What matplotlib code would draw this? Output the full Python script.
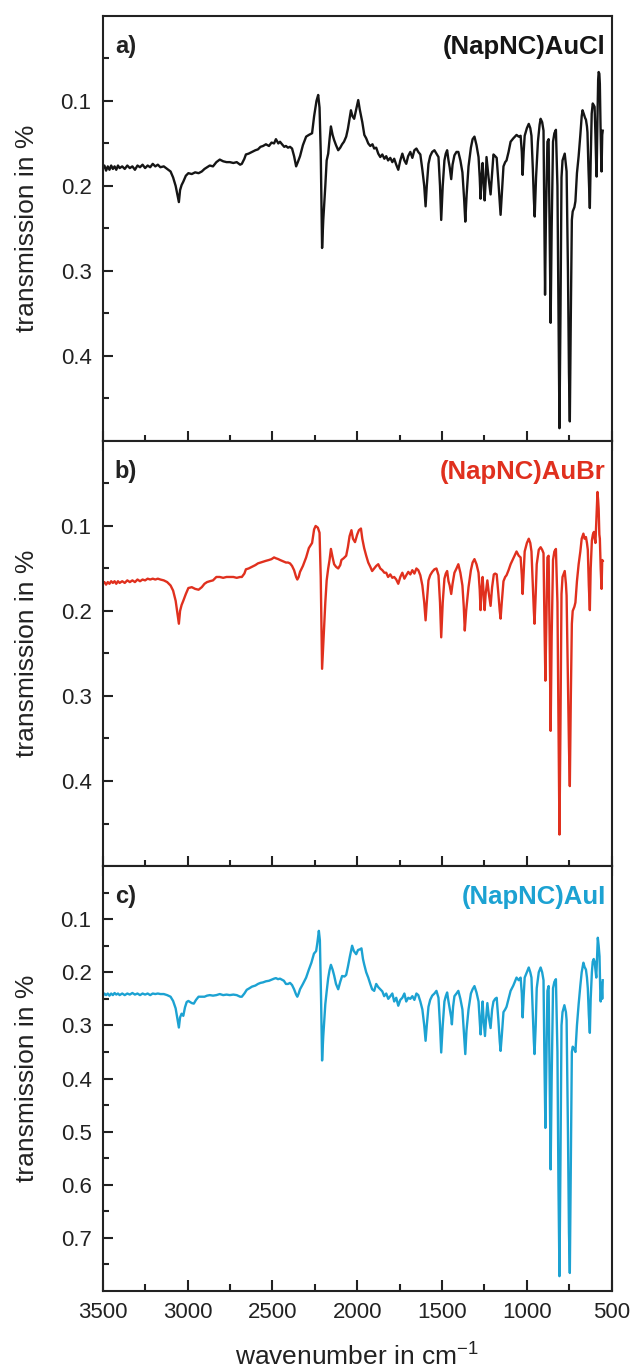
import matplotlib
matplotlib.use("Agg")
import matplotlib.pyplot as plt
import numpy as np

plt.rcParams['font.family'] = ['Liberation Sans', 'DejaVu Sans']
plt.rcParams['mathtext.fontset'] = 'custom'
plt.rcParams['mathtext.rm'] = 'Liberation Sans'

# ---- data (wavenumber in cm-1, transmission) ----
wn_a = [3500, 3490, 3480, 3470, 3460, 3450, 3440, 3430, 3420, 3410, 3400, 3385, 3370, 3355, 3340, 3325,
        3310, 3295, 3280, 3265, 3250, 3235, 3220, 3205, 3190, 3175, 3160, 3140, 3120, 3100, 3085, 3070,
        3058, 3051, 3044, 3035, 3025, 3010, 2995, 2975, 2955, 2935, 2916, 2900, 2885, 2869, 2850, 2830,
        2810, 2790, 2770, 2751, 2730, 2710, 2690, 2680, 2665, 2656, 2640, 2620, 2600, 2585, 2570, 2555,
        2538, 2520, 2505, 2490, 2479, 2465, 2455, 2443, 2430, 2420, 2408, 2396, 2384, 2372, 2360, 2350,
        2337, 2320, 2301, 2285, 2266, 2254, 2240, 2230, 2222, 2215, 2207, 2200, 2188, 2180, 2171, 2163,
        2155, 2145, 2136, 2125, 2112, 2100, 2089, 2078, 2065, 2055, 2045, 2037, 2028, 2018, 2006, 1994,
        1985, 1977, 1970, 1958, 1947, 1935, 1923, 1910, 1900, 1888, 1876, 1864, 1852, 1840, 1829, 1818,
        1805, 1793, 1782, 1770, 1758, 1746, 1734, 1722, 1711, 1700, 1687, 1675, 1663, 1651, 1640, 1628,
        1616, 1605, 1597, 1590, 1580, 1570, 1558, 1545, 1533, 1521, 1512, 1505, 1496, 1486, 1478, 1470,
        1462, 1455, 1446, 1438, 1427, 1415, 1404, 1392, 1380, 1370, 1363, 1355, 1344, 1330, 1320, 1309,
        1297, 1285, 1278, 1273, 1267, 1261, 1255, 1249, 1243, 1238, 1226, 1214, 1205, 1197, 1187, 1178,
        1168, 1160, 1155, 1148, 1138, 1128, 1120, 1108, 1096, 1080, 1061, 1048, 1037, 1030, 1025, 1019,
        1013, 1000, 989, 980, 973, 965, 959, 954, 946, 935, 925, 919, 910, 902, 897, 893,
        888, 879, 872, 866, 860, 854, 846, 838, 829, 820, 814, 808, 802, 796, 790, 777,
        770, 766, 758, 752, 747, 741, 735, 730, 720, 714, 705, 695, 685, 677, 672, 665,
        657, 652, 646, 643, 637, 632, 629, 624, 618, 612, 606, 601, 596, 591, 589, 584,
        580, 577, 573, 570, 566, 562, 560, 556, 553]
t_a = [0.180, 0.176, 0.182, 0.177, 0.181, 0.176, 0.180, 0.177, 0.181, 0.176, 0.179, 0.177, 0.180, 0.176, 0.179, 0.177,
       0.181, 0.176, 0.178, 0.175, 0.179, 0.176, 0.178, 0.174, 0.177, 0.175, 0.178, 0.177, 0.180, 0.183, 0.190, 0.200,
       0.212, 0.219, 0.205, 0.199, 0.195, 0.188, 0.185, 0.186, 0.184, 0.185, 0.183, 0.180, 0.178, 0.176, 0.177, 0.172,
       0.169, 0.171, 0.172, 0.172, 0.173, 0.172, 0.175, 0.174, 0.168, 0.163, 0.162, 0.160, 0.158, 0.157, 0.154, 0.153,
       0.151, 0.153, 0.149, 0.150, 0.145, 0.150, 0.148, 0.151, 0.154, 0.153, 0.155, 0.154, 0.156, 0.165, 0.177, 0.172,
       0.165, 0.152, 0.142, 0.140, 0.138, 0.118, 0.100, 0.093, 0.108, 0.160, 0.273, 0.240, 0.200, 0.170, 0.162, 0.145,
       0.130, 0.140, 0.146, 0.152, 0.158, 0.155, 0.151, 0.148, 0.142, 0.133, 0.121, 0.111, 0.118, 0.121, 0.110, 0.099,
       0.110, 0.118, 0.125, 0.140, 0.144, 0.150, 0.153, 0.151, 0.156, 0.155, 0.162, 0.166, 0.163, 0.168, 0.165, 0.170,
       0.167, 0.172, 0.168, 0.175, 0.181, 0.170, 0.162, 0.170, 0.174, 0.165, 0.160, 0.167, 0.158, 0.156, 0.160, 0.163,
       0.181, 0.200, 0.224, 0.200, 0.174, 0.165, 0.160, 0.158, 0.162, 0.166, 0.200, 0.240, 0.200, 0.170, 0.162, 0.158,
       0.170, 0.178, 0.192, 0.175, 0.164, 0.160, 0.160, 0.170, 0.184, 0.215, 0.242, 0.210, 0.177, 0.155, 0.145, 0.142,
       0.152, 0.166, 0.190, 0.215, 0.190, 0.173, 0.195, 0.217, 0.195, 0.166, 0.190, 0.210, 0.185, 0.163, 0.165, 0.167,
       0.195, 0.220, 0.234, 0.210, 0.177, 0.172, 0.170, 0.160, 0.148, 0.144, 0.140, 0.142, 0.141, 0.160, 0.187, 0.160,
       0.141, 0.132, 0.127, 0.132, 0.141, 0.180, 0.215, 0.236, 0.190, 0.148, 0.128, 0.121, 0.125, 0.135, 0.250, 0.328,
       0.240, 0.148, 0.145, 0.250, 0.361, 0.250, 0.148, 0.138, 0.134, 0.200, 0.350, 0.485, 0.350, 0.190, 0.170, 0.162,
       0.175, 0.183, 0.300, 0.420, 0.477, 0.350, 0.240, 0.230, 0.225, 0.218, 0.185, 0.165, 0.140, 0.118, 0.111, 0.115,
       0.120, 0.122, 0.130, 0.137, 0.180, 0.210, 0.226, 0.170, 0.115, 0.103, 0.105, 0.107, 0.140, 0.180, 0.189, 0.120,
       0.075, 0.066, 0.068, 0.080, 0.130, 0.170, 0.183, 0.140, 0.135]

wn_b = [3500, 3490, 3480, 3470, 3460, 3450, 3440, 3430, 3420, 3410, 3400, 3385, 3370, 3355, 3340, 3325,
        3310, 3295, 3280, 3265, 3250, 3235, 3220, 3205, 3190, 3175, 3160, 3140, 3120, 3100, 3085, 3070,
        3058, 3051, 3044, 3035, 3025, 3010, 2995, 2975, 2955, 2935, 2916, 2900, 2885, 2869, 2850, 2830,
        2810, 2790, 2770, 2751, 2730, 2710, 2690, 2680, 2665, 2656, 2640, 2620, 2600, 2585, 2570, 2555,
        2538, 2520, 2505, 2490, 2479, 2465, 2455, 2443, 2430, 2420, 2408, 2396, 2384, 2372, 2360, 2353,
        2345, 2337, 2320, 2301, 2285, 2266, 2254, 2245, 2232, 2222, 2215, 2207, 2200, 2188, 2180, 2171,
        2163, 2155, 2145, 2136, 2125, 2112, 2100, 2093, 2080, 2065, 2055, 2045, 2034, 2025, 2013, 2000,
        1990, 1978, 1970, 1959, 1947, 1935, 1923, 1912, 1900, 1888, 1876, 1864, 1852, 1840, 1829, 1818,
        1805, 1793, 1782, 1770, 1758, 1746, 1734, 1722, 1711, 1699, 1687, 1675, 1663, 1651, 1640, 1628,
        1616, 1605, 1597, 1590, 1580, 1570, 1558, 1545, 1533, 1521, 1512, 1505, 1496, 1486, 1478, 1470,
        1462, 1455, 1446, 1438, 1427, 1415, 1404, 1392, 1380, 1372, 1366, 1358, 1344, 1330, 1320, 1309,
        1297, 1285, 1278, 1273, 1267, 1261, 1255, 1249, 1243, 1233, 1224, 1214, 1205, 1195, 1187, 1178,
        1168, 1160, 1155, 1148, 1138, 1128, 1120, 1108, 1096, 1080, 1061, 1048, 1037, 1030, 1025, 1019,
        1013, 1000, 989, 980, 973, 965, 959, 955, 948, 942, 930, 919, 910, 902, 896, 891,
        886, 879, 872, 866, 860, 854, 846, 838, 829, 820, 814, 808, 802, 796, 790, 777,
        770, 766, 758, 752, 747, 741, 735, 730, 720, 714, 705, 695, 685, 677, 667, 660,
        652, 646, 641, 635, 629, 624, 617, 611, 605, 600, 596, 590, 584, 580, 577, 573,
        570, 565, 560, 556, 553]
t_b = [0.168, 0.166, 0.169, 0.166, 0.168, 0.165, 0.167, 0.165, 0.168, 0.165, 0.167, 0.165, 0.167, 0.164, 0.166, 0.164,
       0.166, 0.163, 0.165, 0.163, 0.164, 0.162, 0.163, 0.162, 0.163, 0.162, 0.163, 0.164, 0.166, 0.170, 0.176, 0.188,
       0.205, 0.215, 0.200, 0.193, 0.188, 0.180, 0.173, 0.172, 0.174, 0.175, 0.172, 0.168, 0.166, 0.165, 0.164, 0.160,
       0.160, 0.161, 0.160, 0.160, 0.160, 0.161, 0.160, 0.160, 0.156, 0.151, 0.150, 0.148, 0.146, 0.144, 0.143, 0.142,
       0.141, 0.140, 0.139, 0.137, 0.138, 0.139, 0.140, 0.141, 0.142, 0.143, 0.143, 0.144, 0.147, 0.152, 0.160, 0.163,
       0.160, 0.154, 0.147, 0.137, 0.126, 0.120, 0.104, 0.100, 0.102, 0.108, 0.160, 0.268, 0.240, 0.190, 0.164, 0.150,
       0.140, 0.127, 0.137, 0.145, 0.148, 0.150, 0.146, 0.140, 0.138, 0.135, 0.125, 0.112, 0.105, 0.115, 0.119, 0.110,
       0.105, 0.103, 0.115, 0.126, 0.135, 0.143, 0.148, 0.153, 0.150, 0.147, 0.145, 0.150, 0.152, 0.155, 0.155, 0.160,
       0.157, 0.161, 0.160, 0.163, 0.168, 0.160, 0.155, 0.162, 0.158, 0.154, 0.157, 0.152, 0.156, 0.150, 0.152, 0.158,
       0.170, 0.190, 0.211, 0.190, 0.164, 0.158, 0.154, 0.151, 0.150, 0.158, 0.190, 0.231, 0.190, 0.162, 0.156, 0.153,
       0.165, 0.170, 0.180, 0.168, 0.155, 0.150, 0.145, 0.155, 0.170, 0.195, 0.223, 0.200, 0.172, 0.152, 0.143, 0.139,
       0.145, 0.155, 0.175, 0.199, 0.175, 0.160, 0.180, 0.199, 0.180, 0.164, 0.180, 0.194, 0.172, 0.157, 0.156, 0.157,
       0.180, 0.200, 0.209, 0.190, 0.165, 0.160, 0.158, 0.152, 0.145, 0.138, 0.130, 0.135, 0.137, 0.158, 0.180, 0.155,
       0.130, 0.120, 0.115, 0.120, 0.130, 0.170, 0.200, 0.215, 0.180, 0.145, 0.128, 0.125, 0.128, 0.132, 0.220, 0.282,
       0.220, 0.137, 0.135, 0.230, 0.341, 0.230, 0.140, 0.130, 0.127, 0.190, 0.330, 0.463, 0.330, 0.180, 0.160, 0.153,
       0.168, 0.182, 0.280, 0.360, 0.406, 0.300, 0.215, 0.200, 0.195, 0.190, 0.165, 0.145, 0.130, 0.115, 0.109, 0.115,
       0.113, 0.120, 0.128, 0.170, 0.199, 0.150, 0.117, 0.110, 0.107, 0.115, 0.120, 0.090, 0.060, 0.070, 0.080, 0.110,
       0.115, 0.150, 0.174, 0.140, 0.141]

wn_c = [3500, 3490, 3480, 3470, 3460, 3450, 3440, 3430, 3420, 3410, 3400, 3385, 3370, 3355, 3340, 3325,
        3310, 3295, 3280, 3265, 3250, 3235, 3220, 3205, 3190, 3175, 3160, 3140, 3120, 3100, 3085, 3070,
        3058, 3051, 3044, 3035, 3025, 3015, 3005, 2995, 2975, 2963, 2950, 2935, 2916, 2900, 2885, 2869,
        2850, 2830, 2810, 2790, 2770, 2751, 2730, 2710, 2690, 2680, 2665, 2651, 2640, 2620, 2600, 2585,
        2570, 2555, 2538, 2520, 2505, 2490, 2479, 2467, 2455, 2443, 2432, 2420, 2408, 2396, 2384, 2372,
        2360, 2353, 2345, 2337, 2320, 2301, 2285, 2270, 2255, 2242, 2235, 2226, 2220, 2213, 2207, 2200,
        2188, 2180, 2171, 2163, 2155, 2145, 2136, 2125, 2112, 2100, 2089, 2075, 2065, 2055, 2043, 2030,
        2020, 2006, 1995, 1985, 1975, 1966, 1959, 1947, 1935, 1923, 1912, 1900, 1888, 1876, 1864, 1852,
        1841, 1829, 1817, 1805, 1793, 1782, 1770, 1758, 1746, 1734, 1722, 1711, 1699, 1687, 1675, 1663,
        1651, 1640, 1628, 1616, 1605, 1597, 1590, 1580, 1570, 1558, 1545, 1533, 1521, 1512, 1505, 1496,
        1486, 1478, 1470, 1462, 1455, 1446, 1442, 1435, 1427, 1415, 1404, 1392, 1380, 1372, 1363, 1356,
        1344, 1330, 1320, 1309, 1297, 1285, 1278, 1273, 1267, 1261, 1255, 1247, 1240, 1233, 1224, 1214,
        1205, 1197, 1187, 1178, 1168, 1160, 1155, 1148, 1138, 1128, 1120, 1108, 1096, 1080, 1061, 1048,
        1037, 1030, 1025, 1019, 1013, 1000, 989, 980, 973, 965, 959, 955, 948, 942, 930, 919,
        910, 902, 896, 891, 886, 879, 872, 866, 860, 854, 846, 838, 829, 820, 814, 808,
        802, 796, 790, 779, 770, 766, 758, 752, 747, 741, 735, 730, 720, 714, 705, 695,
        685, 677, 667, 660, 652, 646, 641, 635, 629, 624, 617, 612, 606, 601, 596, 591,
        586, 582, 577, 572, 568, 565, 560, 556, 553]
t_c = [0.245, 0.240, 0.243, 0.240, 0.244, 0.240, 0.243, 0.239, 0.242, 0.240, 0.243, 0.240, 0.243, 0.240, 0.242, 0.239,
       0.242, 0.240, 0.243, 0.240, 0.242, 0.240, 0.243, 0.240, 0.241, 0.240, 0.241, 0.241, 0.243, 0.246, 0.254, 0.268,
       0.290, 0.304, 0.285, 0.278, 0.282, 0.266, 0.256, 0.254, 0.258, 0.259, 0.252, 0.246, 0.246, 0.246, 0.244, 0.243,
       0.244, 0.243, 0.241, 0.243, 0.242, 0.243, 0.242, 0.243, 0.246, 0.246, 0.240, 0.233, 0.231, 0.227, 0.225, 0.222,
       0.220, 0.219, 0.217, 0.216, 0.214, 0.212, 0.211, 0.213, 0.212, 0.214, 0.216, 0.222, 0.222, 0.220, 0.224, 0.232,
       0.242, 0.246, 0.240, 0.232, 0.222, 0.210, 0.195, 0.182, 0.165, 0.160, 0.145, 0.122, 0.140, 0.250, 0.366, 0.320,
       0.260, 0.236, 0.211, 0.196, 0.186, 0.195, 0.206, 0.222, 0.232, 0.218, 0.207, 0.208, 0.205, 0.190, 0.170, 0.150,
       0.160, 0.166, 0.158, 0.157, 0.155, 0.175, 0.185, 0.200, 0.210, 0.222, 0.232, 0.235, 0.222, 0.228, 0.232, 0.236,
       0.245, 0.240, 0.250, 0.245, 0.240, 0.255, 0.248, 0.263, 0.252, 0.248, 0.240, 0.255, 0.248, 0.250, 0.245, 0.252,
       0.240, 0.243, 0.255, 0.270, 0.300, 0.329, 0.300, 0.265, 0.252, 0.244, 0.240, 0.235, 0.248, 0.300, 0.351, 0.300,
       0.255, 0.245, 0.238, 0.255, 0.268, 0.285, 0.298, 0.265, 0.245, 0.240, 0.235, 0.250, 0.270, 0.310, 0.354, 0.310,
       0.270, 0.240, 0.232, 0.226, 0.238, 0.255, 0.290, 0.317, 0.290, 0.255, 0.290, 0.320, 0.285, 0.258, 0.285, 0.305,
       0.270, 0.255, 0.250, 0.248, 0.290, 0.330, 0.348, 0.320, 0.275, 0.270, 0.265, 0.250, 0.235, 0.225, 0.210, 0.215,
       0.210, 0.240, 0.285, 0.245, 0.210, 0.200, 0.191, 0.200, 0.210, 0.280, 0.330, 0.354, 0.300, 0.230, 0.200, 0.191,
       0.200, 0.215, 0.380, 0.493, 0.380, 0.235, 0.226, 0.400, 0.571, 0.400, 0.230, 0.218, 0.213, 0.350, 0.600, 0.772,
       0.550, 0.300, 0.275, 0.262, 0.275, 0.290, 0.500, 0.690, 0.766, 0.550, 0.350, 0.340, 0.345, 0.350, 0.300, 0.260,
       0.225, 0.200, 0.182, 0.190, 0.195, 0.210, 0.230, 0.280, 0.314, 0.250, 0.200, 0.180, 0.175, 0.180, 0.195, 0.210,
       0.170, 0.135, 0.150, 0.170, 0.230, 0.255, 0.220, 0.250, 0.215]

panel_tags = ['a)', 'b)', 'c)']
compounds = ['(NapNC)AuCl', '(NapNC)AuBr', '(NapNC)AuI']
colors = ['#151515', '#e0301e', '#1ca2d2']
ylims = [(0.5, 0.0), (0.5, 0.0), (0.8, 0.0)]
xticks_major = [3500, 3000, 2500, 2000, 1500, 1000, 500]
xticks_minor = [3250, 2750, 2250, 1750, 1250, 750]

spectra = [(wn_a, t_a), (wn_b, t_b), (wn_c, t_c)]

fig = plt.figure(figsize=(6.3, 13.72), dpi=100)
left, width = 0.163, 0.808
h = 0.3098
bottoms = [0.059 + 2 * h, 0.059 + h, 0.059]
txt = '#222222'

for i in range(3):
    ax = fig.add_axes([left, bottoms[i], width, h])
    wn, t = spectra[i]
    ax.plot(wn, t, color=colors[i], lw=1.7)
    ax.set_xlim(3500, 500)
    ax.set_ylim(*ylims[i])
    top_val = ylims[i][0]
    ax.set_yticks(np.round(np.arange(0.1, top_val - 0.05, 0.1), 2))
    ax.set_yticks(np.round(np.arange(0.05, top_val, 0.1), 2), minor=True)
    ax.set_xticks(xticks_major)
    ax.set_xticks(xticks_minor, minor=True)
    for s in ax.spines.values():
        s.set_linewidth(1.5)
        s.set_color(txt)
    ax.tick_params(axis='y', which='major', direction='in', length=7, width=1.5,
                   labelsize=16, pad=8, right=False, labelcolor=txt, color=txt)
    ax.tick_params(axis='y', which='minor', direction='in', length=4, width=1.5,
                   right=False, color=txt)
    if i < 2:
        ax.tick_params(axis='x', which='major', direction='inout', length=15, width=1.5,
                       labelbottom=False, top=False, color=txt)
        ax.tick_params(axis='x', which='minor', direction='inout', length=9, width=1.5,
                       top=False, color=txt)
    else:
        ax.tick_params(axis='x', which='major', direction='in', length=8, width=1.5,
                       labelsize=16, pad=8, top=False, labelcolor=txt, color=txt)
        ax.tick_params(axis='x', which='minor', direction='in', length=5, width=1.5,
                       top=False, color=txt)
    ax.text(-0.149, 0.5, 'transmission in %', transform=ax.transAxes, rotation=90,
            ha='center', va='center', fontsize=19, color=txt)
    ax.text(0.024, 0.928, panel_tags[i], transform=ax.transAxes, ha='left', va='center',
            fontsize=17, fontweight='bold', color=txt)
    ax.text(0.988, 0.928, compounds[i], transform=ax.transAxes, ha='right', va='center',
            fontsize=18.5, fontweight='bold', color=colors[i])

fig.text(left + width / 2, 0.012, r'wavenumber in cm$^{\mathregular{-1}}$', ha='center',
         va='center', fontsize=19, color=txt)

fig.savefig('out.png', dpi=100)
